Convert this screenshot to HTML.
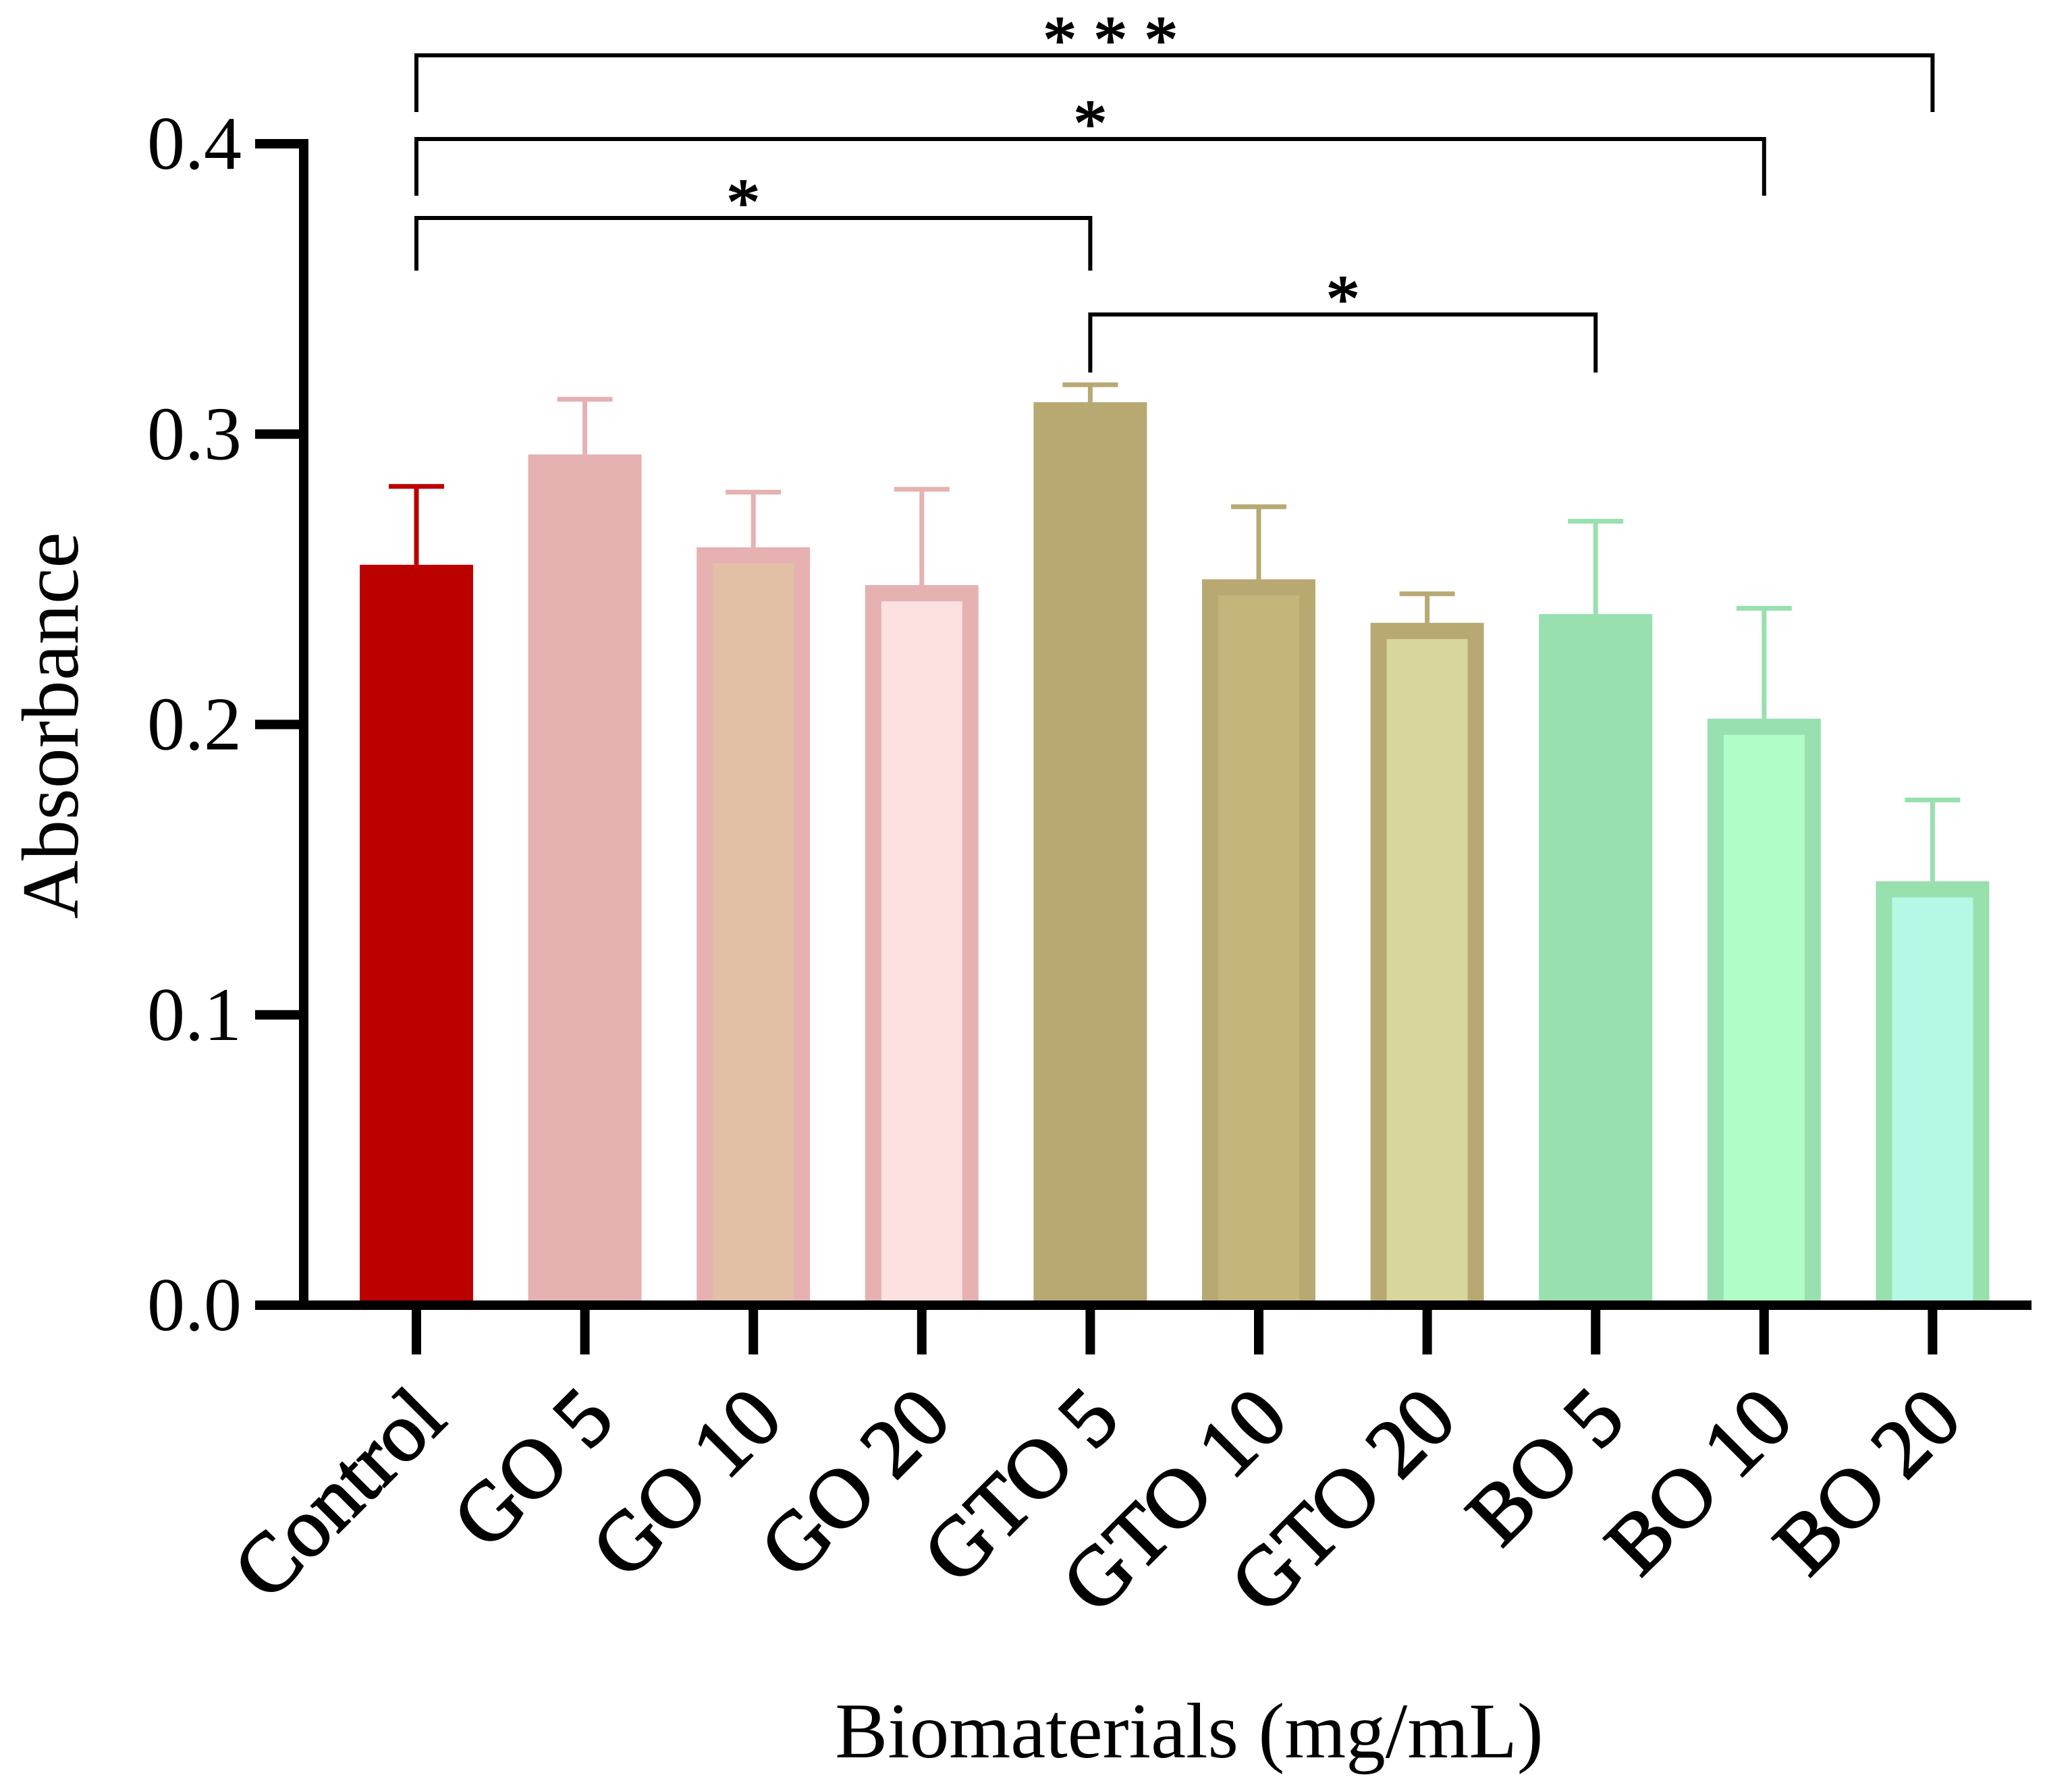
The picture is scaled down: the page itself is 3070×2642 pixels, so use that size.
<!DOCTYPE html>
<html><head><meta charset="utf-8"><style>
html,body{margin:0;padding:0;background:#fff;}
svg{display:block;font-family:"Liberation Serif",serif;}
</style></head><body>
<svg id="chart" width="3070" height="2642" viewBox="0 0 3070 2642" xmlns="http://www.w3.org/2000/svg">
<rect width="3070" height="2642" fill="#fff"/>
<g id="bars"></g>
<g id="axes"></g>
<g id="sig"></g>
<text x="0" y="0" transform="translate(115,1075) rotate(-90)" text-anchor="middle" font-size="120">Absorbance</text>
<text x="1762" y="2604" text-anchor="middle" font-size="117">Biomaterials (mg/mL)</text>
</svg>
<script>
const categories = ["Control","GO 5","GO 10","GO 20","GTO 5","GTO 10","GTO 20","BO 5","BO 10","BO 20"];
const means = [0.255,0.293,0.261,0.248,0.311,0.250,0.235,0.238,0.202,0.146];
const errTops = [0.282,0.312,0.280,0.281,0.317,0.275,0.245,0.270,0.240,0.174];
const yTicks = [0,0.1,0.2,0.3,0.4];
const yTickLabels = ["0.0","0.1","0.2","0.3","0.4"];
const sigPairs = [[0,9],[0,8],[0,4],[4,7]];
const sigLabels = ["* * *","*","*","*"];
const borderColors = ["#bb0000","#e5b1b1","#e5b1b1","#e5b1b1","#b8a973","#b8a973","#b8a973","#98e0ae","#98e0ae","#98e0ae"];
const fillColors = ["#bb0000","#e5b1b1","#e2c0a6","#fde0e0","#b8a973","#c6b57a","#d7d69c","#98e0ae","#b0fdc8","#b6f8e6"];

const NS="http://www.w3.org/2000/svg";
const x0=450, y0=1934, yTop=213, yMax=0.4;
const step=249.6, firstX=617, barW=168, bw=24;
function xs(i){return firstX+i*step;}
function ys(v){return y0-(v/yMax)*(y0-yTop);}
function mk(tag,attrs,parent){const e=document.createElementNS(NS,tag);for(const k in attrs)e.setAttribute(k,attrs[k]);parent.appendChild(e);return e;}
const bars=document.getElementById('bars'),axes=document.getElementById('axes'),sig=document.getElementById('sig');

categories.forEach((c,i)=>{
  const cx=xs(i), top=ys(means[i]), et=ys(errTops[i]);
  const eb=mk('line',{x1:cx,x2:cx,y1:top,y2:et,stroke:borderColors[i],'stroke-width':7},bars);
  
  
  const cap=mk('line',{x1:cx-41,x2:cx+41,y1:et,y2:et,stroke:borderColors[i],'stroke-width':7},bars);
  
  
  const r=mk('rect',{x:cx-barW/2,y:top,width:barW,height:y0-top,fill:borderColors[i]},bars);
  
  
  if(fillColors[i]!==borderColors[i]){
    const inner=mk('rect',{x:cx-barW/2+bw,y:top+bw,width:barW-2*bw,height:Math.max(0,y0-top-bw),fill:fillColors[i]},bars);
    
    
  }
  const t=mk('line',{x1:cx,x2:cx,y1:y0,y2:2007,stroke:'#000','stroke-width':14},axes);
  
  
  const lab=mk('text',{x:0,y:0,transform:`translate(${cx+48},${2108}) rotate(-45)`,'text-anchor':'end','font-size':124,stroke:'#000','stroke-width':2.5},axes);
  lab.textContent=c;
  
  
});
const ya=mk('line',{x1:x0,x2:x0,y1:yTop-7,y2:y0+7,stroke:'#000','stroke-width':14},axes);


const xa=mk('line',{x1:x0-7,x2:3010,y1:y0,y2:y0,stroke:'#000','stroke-width':14},axes);


yTicks.forEach((v,i)=>{
  const y=ys(v);
  const t=mk('line',{x1:378,x2:x0,y1:y,y2:y,stroke:'#000','stroke-width':14},axes);
  
  
  const l=mk('text',{x:358,y:y+37,'text-anchor':'end','font-size':112},axes);
  l.textContent=yTickLabels[i];
  
  
});
const bracketY=[82,206,323,466], legBottom=[166,290,401,552];
const labelShift=[-95,0,-15,0];
sigPairs.forEach((p,k)=>{
  const a=xs(p[0]), b=xs(p[1]), y=bracketY[k], yb=legBottom[k];
  const path=mk('path',{d:`M${a},${yb} V${y} H${b} V${yb}`,fill:'none',stroke:'#000','stroke-width':6},sig);
  
  
  const s=mk('text',{x:(a+b)/2+labelShift[k],y:y+10,'text-anchor':'middle','font-size':100,stroke:'#000','stroke-width':2},sig);
  s.textContent=sigLabels[k];
  
  
});
</script>
</body></html>
